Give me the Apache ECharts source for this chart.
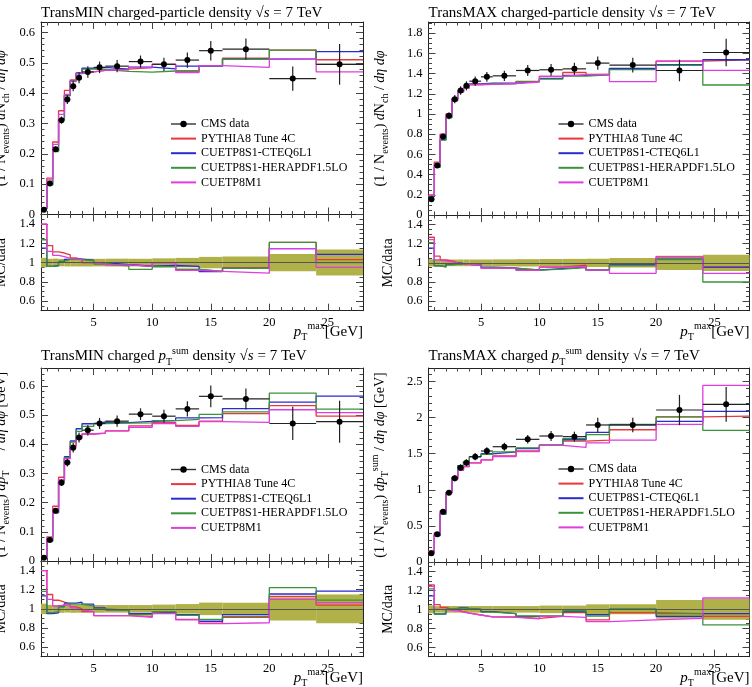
<!DOCTYPE html>
<html><head><meta charset="utf-8">
<script src="https://cdn.jsdelivr.net/npm/echarts@6/dist/echarts.min.js"></script>
<style>html,body{margin:0;padding:0;background:#fff}#c{width:752px;height:687px}</style>
</head><body><div id="c"></div>
<script>
// ---------------- data ----------------
const binEdges = [0.5,1,1.5,2,2.5,3,3.5,4,5,6,8,10,12,14,16,20,24,28];
const seriesNames = ['CMS data','PYTHIA8 Tune 4C','CUETP8S1-CTEQ6L1','CUETP8S1-HERAPDF1.5LO','CUETP8M1'];

const xTicks = [5,10,15,20,25];
const ratioTicks = [0.6,0.8,1,1.2,1.4];
const minNchTicks = [0,0.1,0.2,0.3,0.4,0.5,0.6];
const maxNchTicks = [0,0.2,0.4,0.6,0.8,1,1.2,1.4,1.6,1.8];
const minPtTicks = [0,0.1,0.2,0.3,0.4,0.5,0.6];
const maxPtTicks = [0,0.5,1,1.5,2,2.5];

// TransMIN charged-particle density
const minNchData = [0.016,0.102,0.215,0.311,0.379,0.423,0.451,0.470,0.485,0.489,0.504,0.495,0.509,0.540,0.545,0.448,0.495];
const minNchErr  = [0.0008,0.004,0.009,0.012,0.015,0.017,0.018,0.019,0.019,0.020,0.020,0.022,0.025,0.032,0.035,0.040,0.067];
const minNch4C   = [0.0224,0.120,0.239,0.342,0.409,0.444,0.465,0.470,0.475,0.479,0.484,0.495,0.473,0.491,0.515,0.542,0.510];
const minNchCTEQ = [0.0184,0.098,0.209,0.314,0.392,0.440,0.467,0.482,0.485,0.479,0.486,0.480,0.489,0.489,0.512,0.513,0.537];
const minNchHERA = [0.0198,0.098,0.2075,0.316,0.392,0.440,0.4645,0.479,0.478,0.472,0.469,0.473,0.473,0.491,0.512,0.542,0.495];
const minNchM1   = [0.0224,0.114,0.231,0.330,0.396,0.438,0.4645,0.470,0.475,0.477,0.484,0.495,0.468,0.491,0.485,0.513,0.470];

// TransMAX charged-particle density
const maxNchData = [0.157,0.490,0.777,0.982,1.147,1.233,1.279,1.325,1.368,1.378,1.431,1.438,1.447,1.504,1.484,1.431,1.609];
const maxNchErr  = [0.006,0.017,0.027,0.034,0.040,0.043,0.045,0.046,0.048,0.050,0.055,0.058,0.060,0.065,0.074,0.107,0.137];
const maxNch4C   = [0.199,0.524,0.800,1.002,1.150,1.221,1.260,1.292,1.293,1.302,1.324,1.373,1.411,1.391,1.447,1.524,1.537];
const maxNchCTEQ = [0.181,0.475,0.746,0.967,1.147,1.225,1.264,1.298,1.306,1.306,1.324,1.352,1.382,1.391,1.452,1.488,1.537];
const maxNchHERA = [0.190,0.475,0.742,0.962,1.130,1.218,1.258,1.290,1.300,1.300,1.321,1.345,1.375,1.388,1.440,1.481,1.287];
const maxNchM1   = [0.195,0.505,0.793,0.992,1.147,1.221,1.260,1.292,1.293,1.302,1.317,1.373,1.389,1.391,1.321,1.524,1.432];

// TransMIN charged pTsum density
const minPtData = [0.011,0.072,0.172,0.268,0.337,0.388,0.423,0.448,0.471,0.479,0.503,0.496,0.521,0.564,0.555,0.471,0.477];
const minPtErr  = [0.0006,0.003,0.007,0.011,0.013,0.016,0.017,0.018,0.019,0.019,0.020,0.022,0.026,0.037,0.036,0.057,0.072];
const minPt4C   = [0.0154,0.0828,0.1875,0.2868,0.354,0.396,0.423,0.435,0.438,0.4455,0.463,0.474,0.464,0.479,0.505,0.532,0.496];
const minPtCTEQ = [0.0125,0.0684,0.165,0.276,0.357,0.411,0.453,0.470,0.476,0.474,0.478,0.481,0.490,0.491,0.522,0.544,0.565];
const minPtHERA = [0.013,0.0691,0.167,0.273,0.354,0.407,0.444,0.461,0.471,0.472,0.473,0.481,0.485,0.502,0.511,0.575,0.520];
const minPtM1   = [0.0154,0.0792,0.177,0.279,0.3505,0.392,0.419,0.435,0.438,0.4455,0.458,0.471,0.461,0.477,0.4745,0.518,0.508];

// TransMAX charged pTsum density
const maxPtData = [0.12,0.385,0.697,0.960,1.159,1.307,1.376,1.459,1.537,1.597,1.699,1.745,1.736,1.898,1.898,2.105,2.184];
const maxPtErr  = [0.005,0.013,0.024,0.034,0.041,0.046,0.048,0.051,0.054,0.056,0.059,0.070,0.069,0.100,0.100,0.210,0.240];
const maxPt4C   = [0.151,0.404,0.711,0.960,1.147,1.274,1.321,1.372,1.414,1.469,1.538,1.614,1.675,1.689,1.832,2.010,2.020];
const maxPtCTEQ = [0.137,0.366,0.662,0.960,1.171,1.333,1.390,1.459,1.499,1.525,1.572,1.614,1.693,1.794,1.898,1.947,2.086];
const maxPtHERA = [0.146,0.366,0.669,0.962,1.171,1.327,1.390,1.459,1.491,1.525,1.580,1.623,1.710,1.765,1.905,2.010,1.824];
const maxPtM1   = [0.149,0.385,0.697,0.950,1.142,1.268,1.321,1.372,1.414,1.461,1.529,1.614,1.588,1.651,1.689,1.905,2.446];

const titleMinNch = '{n|TransMIN charged-particle density }{n|√}{i|s}{n| = 7 TeV}';
const titleMaxNch = '{n|TransMAX charged-particle density }{n|√}{i|s}{n| = 7 TeV}';
const titleMinPt  = '{n|TransMIN charged }{i|p}{sub|T}{sup|sum}{n| density }{n|√}{i|s}{n| = 7 TeV}';
const titleMaxPt  = '{n|TransMAX charged }{i|p}{sub|T}{sup|sum}{n| density }{n|√}{i|s}{n| = 7 TeV}';
const yNameNch = '{n|(1 / N}{sub|events}{n|) }{i|d}{n|N}{sub|ch}{n| / }{i|dη dφ}';
const yNamePt  = '{n|(1 / N}{sub|events}{n|) }{i|dp}{sub|T}{sup|sum}{n| / }{i|dη dφ}{n| [GeV]}';
const yNameRatio = '{n|MC/data}';
const xName = '{i|p}{sub|T}{sup|max}{n|[GeV]}';

// ---------------- style ----------------
const F = 'Liberation Serif';
const mcColors = ['#e8383c','#2b2bd0','#3a943a','#e03ce0'];
const bandColor = '#b1b149';
function rich(size){
  return {
    n:{fontFamily:F,fontSize:size,color:'#000',lineHeight:size+6},
    i:{fontFamily:F,fontSize:size,fontStyle:'italic',color:'#000',lineHeight:size+6},
    sub:{fontFamily:F,fontSize:Math.round(size*0.68),color:'#000',verticalAlign:'bottom',lineHeight:Math.round(size*0.9)},
    sup:{fontFamily:F,fontSize:Math.round(size*0.68),color:'#000',verticalAlign:'top',lineHeight:Math.round(size*0.9)}
  };
}

const panels = [
  {data:minNchData, err:minNchErr, mc:[minNch4C,minNchCTEQ,minNchHERA,minNchM1], yTicks:minNchTicks, yMinor:0.02, yMax:0.6345,
   left:41, width:322, top:22, split:214.5, bottom:310.7, title:titleMinNch, titleTop:3, yName:yNameNch, yGap:30, lg:[170,117]},
  {data:maxNchData, err:maxNchErr, mc:[maxNch4C,maxNchCTEQ,maxNchHERA,maxNchM1], yTicks:maxNchTicks, yMinor:0.05, yMax:1.911,
   left:428.5, width:321, top:22, split:215, bottom:310.7, title:titleMaxNch, titleTop:3, yName:yNameNch, yGap:38, lg:[557.5,117]},
  {data:minPtData, err:minPtErr, mc:[minPt4C,minPtCTEQ,minPtHERA,minPtM1], yTicks:minPtTicks, yMinor:0.02, yMax:0.661,
   left:41, width:322, top:368, split:561, bottom:656.7, title:titleMinPt, titleTop:346, yName:yNamePt, yGap:30, lg:[170,462.5]},
  {data:maxPtData, err:maxPtErr, mc:[maxPt4C,maxPtCTEQ,maxPtHERA,maxPtM1], yTicks:maxPtTicks, yMinor:0.1, yMax:2.687,
   left:428.5, width:321, top:368, split:562, bottom:656.7, title:titleMaxPt, titleTop:346, yName:yNamePt, yGap:38, lg:[557.5,462]}
];

const centers = binEdges.slice(0,-1).map((e,i)=>(e+binEdges[i+1])/2);
function stepPts(vals){ const pts=[]; vals.forEach((v,i)=>{pts.push([binEdges[i],v],[binEdges[i+1],v]);}); return pts; }
function minors(min,max,step,majors){
  const out=[]; const n=Math.round((max-min)/step)+2; const k0=Math.ceil(min/step-1e-9);
  for(let k=k0;k<=k0+n;k++){ const v=+(k*step).toFixed(6);
    if(v<=min+1e-9||v>=max-1e-9) continue;
    if(majors.some(m=>Math.abs(m-v)<1e-6)) continue; out.push(v);} return out;
}
const fmt = v => String(Math.round(v*1000)/1000);

const grids=[], xAxes=[], yAxes=[], series=[], titles=[], legends=[], graphics=[];
function axisSet(dim, gi, pos, min, max, majors, minorVals, showLabel, extra){
  const major = Object.assign({type:'value', gridIndex:gi, position:pos, min:min, max:max,
    axisLine:{show:true,onZero:false,lineStyle:{color:'#222',width:1}},
    axisTick:{show:true,inside:true,length:7,customValues:majors,lineStyle:{color:'#444',width:1}},
    axisLabel:{show:showLabel,customValues:majors,formatter:fmt,fontFamily:F,fontSize:12.5,color:'#000',margin:6},
    splitLine:{show:false}, minorTick:{show:false}, silent:true}, extra||{});
  const minor = {type:'value', gridIndex:gi, position:pos, min:min, max:max,
    axisLine:{show:false,onZero:false},
    axisTick:{show:true,inside:true,length:3.5,customValues:minorVals,lineStyle:{color:'#444',width:1}},
    axisLabel:{show:false}, splitLine:{show:false}, silent:true};
  return [major, minor];
}

function errItem(params, api){
  const lo=api.value(0), hi=api.value(1), c=api.value(2), v=api.value(3), e=api.value(4);
  const a=api.coord([lo,v]), b=api.coord([hi,v]), t=api.coord([c,v+e]), u=api.coord([c,v-e]);
  return {type:'group', children:[
    {type:'line', shape:{x1:a[0],y1:a[1],x2:b[0],y2:b[1]}, style:{stroke:'#222',lineWidth:1.2}},
    {type:'line', shape:{x1:t[0],y1:t[1],x2:u[0],y2:u[1]}, style:{stroke:'#222',lineWidth:1.2}}
  ]};
}
function bandItem(params, api){
  const p0=api.coord([api.value(0), api.value(3)]);
  const p1=api.coord([api.value(1), api.value(2)]);
  return {type:'rect', shape:{x:p0[0], y:p0[1], width:p1[0]-p0[0], height:p1[1]-p0[1]}, style:{fill:bandColor}};
}

const xMinors = minors(0.5,28,1,xTicks);
const rMinors = minors(0.5,1.5,0.05,ratioTicks);

panels.forEach((P,p)=>{
  const gm=2*p, gr=2*p+1;
  grids.push({left:P.left, top:P.top, width:P.width, height:P.split-P.top, outerBoundsMode:'none'});
  grids.push({left:P.left, top:P.split, width:P.width, height:P.bottom-P.split, outerBoundsMode:'none'});
  const yMin = minors(0,P.yMax,P.yMinor,P.yTicks);
  xAxes.push(...axisSet('x',gm,'bottom',0.5,28,xTicks,xMinors,false));
  xAxes.push(...axisSet('x',gm,'top',0.5,28,xTicks,xMinors,false));
  yAxes.push(...axisSet('y',gm,'left',0,P.yMax,P.yTicks,yMin,true,
     {name:P.yName,nameLocation:'middle',nameGap:P.yGap,nameTextStyle:{rich:rich(14),fontFamily:F,fontSize:14}}));
  yAxes.push(...axisSet('y',gm,'right',0,P.yMax,P.yTicks,yMin,false));
  xAxes.push(...axisSet('x',gr,'bottom',0.5,28,xTicks,xMinors,true));
  xAxes.push(...axisSet('x',gr,'top',0.5,28,xTicks,xMinors,false));
  yAxes.push(...axisSet('y',gr,'left',0.5,1.5,ratioTicks,rMinors,true,
     {name:yNameRatio,nameLocation:'middle',nameGap:30,nameTextStyle:{rich:rich(14),fontFamily:F,fontSize:14}}));
  yAxes.push(...axisSet('y',gr,'right',0.5,1.5,ratioTicks,rMinors,false));

  const xm=4*gm, xr=4*gr;
  P.mc.forEach((vals,m)=>{
    series.push({type:'line', name:seriesNames[m+1], xAxisIndex:xm, yAxisIndex:xm, data:stepPts(vals),
      symbol:'none', lineStyle:{color:mcColors[m],width:1.3}, itemStyle:{color:mcColors[m]}, z:3, silent:true});
  });
  series.push({type:'custom', name:'CMS data errors', xAxisIndex:xm, yAxisIndex:xm, renderItem:errItem,
    data:P.data.map((v,i)=>[binEdges[i],binEdges[i+1],centers[i],v,P.err[i]]), encode:{x:[0,1,2],y:[3]}, z:8, silent:true});
  series.push({type:'line', name:'CMS data', xAxisIndex:xm, yAxisIndex:xm, data:P.data.map((v,i)=>[centers[i],v]),
    symbol:'circle', symbolSize:6, showSymbol:true, itemStyle:{color:'#000'}, lineStyle:{opacity:0,color:'#000'}, z:9, silent:true});
  series.push({type:'custom', name:'data band', xAxisIndex:xr, yAxisIndex:xr, renderItem:bandItem,
    data:P.data.map((v,i)=>[binEdges[i],binEdges[i+1],1-P.err[i]/v,1+P.err[i]/v]), encode:{x:[0,1],y:[2,3]}, z:1, silent:true});
  P.mc.forEach((vals,m)=>{
    const s={type:'line', name:seriesNames[m+1], xAxisIndex:xr, yAxisIndex:xr, data:stepPts(vals.map((v,i)=>v/P.data[i])),
      symbol:'none', lineStyle:{color:mcColors[m],width:1.3}, itemStyle:{color:mcColors[m]}, z:3, silent:true};
    if(m===0) s.markLine={silent:true,symbol:'none',label:{show:false},lineStyle:{color:'#555',width:1,type:'solid'},data:[{yAxis:1}]};
    series.push(s);
  });

  titles.push({text:P.title, left:P.left, top:P.titleTop, padding:0, textStyle:{rich:rich(15),fontFamily:F,fontSize:15,fontWeight:'normal',color:'#000'}});
  legends.push({left:P.lg[0], top:P.lg[1], orient:'vertical', padding:0, itemGap:0.6, itemWidth:25, itemHeight:8, selectedMode:false,
    textStyle:{fontFamily:F,fontSize:12,color:'#000',lineHeight:14},
    data:[{name:'CMS data', lineStyle:{opacity:1,width:1.4,color:'#333'}}]
      .concat(seriesNames.slice(1).map(n=>({name:n, itemStyle:{opacity:0}})))});
  graphics.push({type:'text', right:752-(P.left+P.width), top:P.bottom+11, silent:true,
    style:{text:xName, rich:rich(15), fontFamily:F, fontSize:15, fill:'#000'}});
});

const chart = echarts.init(document.getElementById('c'), null, {renderer:'canvas'});
chart.setOption({animation:false, backgroundColor:'#fff', title:titles, legend:legends, grid:grids, xAxis:xAxes, yAxis:yAxes, series:series, graphic:graphics});
</script></body></html>
